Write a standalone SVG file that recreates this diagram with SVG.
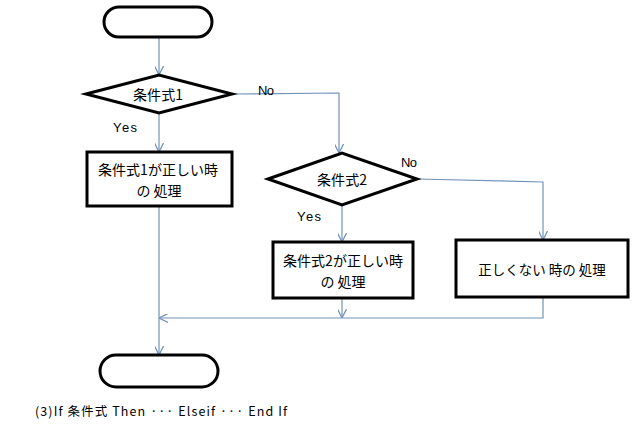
<svg xmlns="http://www.w3.org/2000/svg" width="633" height="429" viewBox="0 0 633 429">
<style>
.node{fill:#fff;stroke:#000;stroke-width:3}
.ln{fill:none;stroke:#7393ba;stroke-width:1.2}
text{font-family:"Noto Sans CJK JP","Liberation Sans",sans-serif;font-size:14px;fill:#000}
.lbl{font-family:"Liberation Sans","Noto Sans CJK JP",sans-serif;font-size:13px}
</style>
<defs>
<marker id="arr" viewBox="0 0 10 10" refX="10" refY="5" markerWidth="9" markerHeight="9" markerUnits="userSpaceOnUse" orient="auto">
<polyline points="0,0 10,5 0,10" fill="none" stroke="#7393ba" stroke-width="1.4"/>
</marker>
</defs>
<rect width="633" height="429" fill="#fff"/>
<g id="connectors">
<line class="ln" x1="159" y1="37" x2="159" y2="75" marker-end="url(#arr)"/>
<polyline class="ln" points="232,94 339,93 339,153" marker-end="url(#arr)"/>
<line class="ln" x1="159" y1="113" x2="159" y2="152" marker-end="url(#arr)"/>
<line class="ln" x1="342" y1="205" x2="342" y2="242" marker-end="url(#arr)"/>
<polyline class="ln" points="417,179 543,182 543,240" marker-end="url(#arr)"/>
<line class="ln" x1="342" y1="298" x2="342" y2="318" marker-end="url(#arr)"/>
<polyline class="ln" points="543,297 543,318 159,318" marker-end="url(#arr)"/>
<line class="ln" x1="159" y1="206" x2="159" y2="355" marker-end="url(#arr)"/>
<text class="lbl" x="258" y="95" textLength="16">No</text>
<text class="lbl" x="113" y="132" textLength="24">Yes</text>
<text class="lbl" x="401" y="167" textLength="16">No</text>
<text class="lbl" x="297" y="221" textLength="24">Yes</text>
</g>
<g id="start"><rect class="node" x="104" y="7" width="108" height="30" rx="15"/></g>
<g id="cond1"><polygon class="node" points="86,94 159,75 232,94 159,113"/><text x="133" y="100" textLength="50">条件式1</text></g>
<g id="proc1"><rect class="node" x="87" y="152" width="145" height="54"/><text x="98" y="175" textLength="120">条件式1が正しい時</text><text x="159" y="196" text-anchor="middle">の 処理</text></g>
<g id="cond2"><polygon class="node" points="268,179 342,153 417,179 342,205"/><text x="317" y="185" textLength="50">条件式2</text></g>
<g id="proc2"><rect class="node" x="273" y="242" width="140" height="56"/><text x="283" y="266" textLength="120">条件式2が正しい時</text><text x="343" y="287" text-anchor="middle">の 処理</text></g>
<g id="proc3"><rect class="node" x="456" y="240" width="172" height="57"/><text x="542" y="275" text-anchor="middle" style="font-size:13.5px">正しくない 時の 処理</text></g>
<g id="end"><rect class="node" x="100" y="355" width="118" height="32" rx="16"/></g>
<text x="35" y="416" style="font-size:12.5px" textLength="252">(3)If 条件式 Then ··· Elseif ··· End If</text>
</svg>
